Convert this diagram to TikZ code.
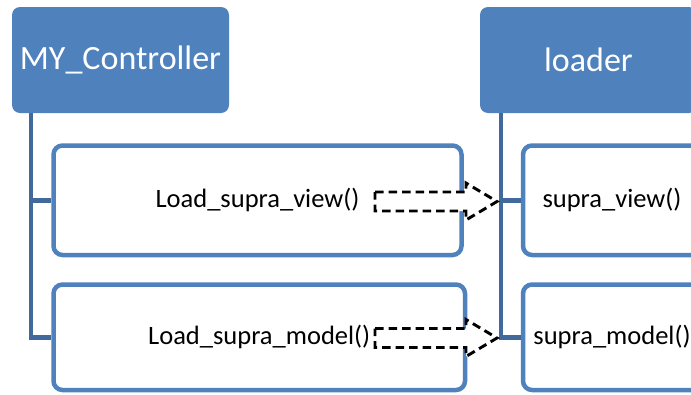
\documentclass[tikz,border=0pt]{standalone}
\usepackage{fontspec}
\setmainfont{Carlito}
\definecolor{acc}{HTML}{4F81BD}
\definecolor{connc}{HTML}{41699B}
\begin{document}
\begin{tikzpicture}[x=1pt,y=-1pt,
  head/.style={fill=acc, draw=none, rounded corners=8pt, minimum width=217pt, minimum height=106pt, inner sep=0pt, text=white, font=\fontsize{34}{40}\selectfont},
  child/.style={draw=acc, line width=4.5pt, fill=white, rounded corners=9pt, inner sep=0pt, font=\fontsize{26.5}{32}\selectfont},
  conn/.style={draw=connc, line width=4.5pt},
  blockarrow/.style={draw=black, fill=white, line width=2.9pt, dash pattern=on 8.5pt off 5pt}]
\useasboundingbox (0,0) rectangle (691,394);
\clip (0,0) rectangle (691,394);

\node[head] (hl) at (120.5,60) {MY\_Controller};
\node[head] (hr) at (588.5,60) {loader};

\node[child, minimum width=408pt, minimum height=109.5pt] (cl1) at (257.5,200.25) {Load\_supra\_view()};
\node[child, minimum width=411.5pt, minimum height=105.5pt] (cl2) at (259.25,337.25) {Load\_supra\_model()};
\node[child, minimum width=178pt, minimum height=109.5pt] (cr1) at (612,200.25) {supra\_view()};
\node[child, minimum width=178pt, minimum height=105.5pt] (cr2) at (612,337.25) {supra\_model()};

\coordinate (tl) at ([xshift=19pt]hl.south west);
\coordinate (tr) at ([xshift=21pt]hr.south west);
\draw[conn] (tl) |- (cl2.west);
\draw[conn] (tl |- cl1.west) -- (cl1.west);
\draw[conn] (tr) |- (cr2.west);
\draw[conn] (tr |- cr1.west) -- (cr1.west);

\coordinate (a1) at (375,201.5);
\coordinate (a2) at (375,338);
\draw[blockarrow] (a1) ++(0,-9.5) -- ++(91,0) -- ++(0,-9) -- ++(31,18.5) -- ++(-31,18.5) -- ++(0,-9) -- ++(-91,0) -- cycle;
\draw[blockarrow] (a2) ++(0,-9.5) -- ++(91,0) -- ++(0,-9) -- ++(31,18.5) -- ++(-31,18.5) -- ++(0,-9) -- ++(-91,0) -- cycle;
\end{tikzpicture}
\end{document}
